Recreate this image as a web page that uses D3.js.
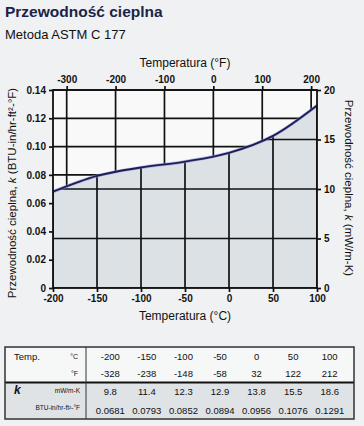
<!DOCTYPE html>
<html>
<head>
<meta charset="utf-8">
<script src="https://cdn.jsdelivr.net/npm/d3@7"></script>
<style>
  body { margin: 0; background: #eff1f2; }
  svg { display: block; font-family: "Liberation Sans", Arial, sans-serif; }
</style>
</head>
<body>
<div id="chart"></div>
<script>
var tempC = [-200, -150, -100, -50, 0, 50, 100];
var tempF = [-328, -238, -148, -58, 32, 122, 212];
var kMW = [9.8, 11.4, 12.3, 12.9, 13.8, 15.5, 18.6];
var kBTU = [0.0681, 0.0793, 0.0852, 0.0894, 0.0956, 0.1076, 0.1291];
var ticksC = [-200, -150, -100, -50, 0, 50, 100];
var ticksF = [-300, -200, -100, 0, 100, 200];
var ticksBTU = [0, 0.02, 0.04, 0.06, 0.08, 0.1, 0.12, 0.14];
var ticksMW = [0, 5, 10, 15, 20];

var w = 364, h = 426;
// plot box (note: "top" is reserved by window, so use px/py names)
var px0 = 53, px1 = 317, py0 = 90, py1 = 288;
var ink = "#111";

var svg = d3.select("#chart").append("svg").attr("width", w).attr("height", h);

var xC = d3.scaleLinear().domain([-200, 100]).range([px0, px1]);
var xF = d3.scaleLinear().domain([-328, 212]).range([px0, px1]);
var yB = d3.scaleLinear().domain([0, 0.14]).range([py1, py0]);
var yM = d3.scaleLinear().domain([0, 20]).range([py1, py0]);

// titles
svg.append("text").attr("x", 5).attr("y", 17)
  .style("font-size", "15.5px").style("font-weight", "bold").style("fill", "#1b2448")
  .text("Przewodność cieplna");
svg.append("text").attr("x", 5).attr("y", 39)
  .style("font-size", "13px").style("fill", ink)
  .text("Metoda ASTM C 177");

// plot background
svg.append("rect").attr("x", px0).attr("y", py0)
  .attr("width", px1 - px0).attr("height", py1 - py0)
  .style("fill", "#f9f9f9");

var pts = tempC.map(function (c, i) { return [c, kBTU[i]]; });

// upper grid (F / BTU)
var g1 = svg.append("g").style("stroke", ink).style("stroke-width", 1.7);
g1.selectAll("line.v").data(ticksF).enter().append("line")
  .attr("x1", function (d) { return xF(d); }).attr("x2", function (d) { return xF(d); })
  .attr("y1", py0).attr("y2", py1);
g1.selectAll("line.h").data(ticksBTU.slice(1)).enter().append("line")
  .attr("x1", px0).attr("x2", px1)
  .attr("y1", function (d) { return yB(d); }).attr("y2", function (d) { return yB(d); });

// area under curve
var area = d3.area()
  .x(function (d) { return xC(d[0]); })
  .y0(py1)
  .y1(function (d) { return yB(d[1]); })
  .curve(d3.curveMonotoneX);
svg.append("clipPath").attr("id", "under").append("path").attr("d", area(pts));
svg.append("path").attr("d", area(pts)).style("fill", "#dce1e5");

// lower grid (C / mW), clipped to the area
var g2 = svg.append("g").attr("clip-path", "url(#under)")
  .style("stroke", ink).style("stroke-width", 1.7);
g2.selectAll("line.v").data(ticksC).enter().append("line")
  .attr("x1", function (d) { return xC(d); }).attr("x2", function (d) { return xC(d); })
  .attr("y1", py0).attr("y2", py1);
g2.selectAll("line.h").data(ticksMW).enter().append("line")
  .attr("x1", px0).attr("x2", px1)
  .attr("y1", function (d) { return yM(d); }).attr("y2", function (d) { return yM(d); });

// curve
var line = d3.line()
  .x(function (d) { return xC(d[0]); })
  .y(function (d) { return yB(d[1]); })
  .curve(d3.curveMonotoneX);
svg.append("path").attr("d", line(pts))
  .style("fill", "none").style("stroke", "#8d92c8").style("stroke-width", 3.2).style("opacity", 0.6);
svg.append("path").attr("d", line(pts))
  .style("fill", "none").style("stroke", "#1d1d5a").style("stroke-width", 1.9);

// axes
var hyphen = function (d) { return String(d); };
function styleAxis(g) {
  g.select(".domain").remove();
  g.selectAll(".tick line").style("stroke", ink).style("stroke-width", 1.7);
  g.selectAll(".tick text").style("font-size", "10px").style("font-weight", "bold")
    .style("fill", ink).style("font-family", "'Liberation Sans', Arial, sans-serif");
}
svg.append("g").attr("transform", "translate(" + px0 + ",0)")
  .call(d3.axisLeft(yB).tickValues(ticksBTU).tickSize(4).tickPadding(3)
    .tickFormat(function (d) { return d === 0 ? "0" : d3.format(".2f")(d); }))
  .call(styleAxis);
svg.append("g").attr("transform", "translate(" + px1 + ",0)")
  .call(d3.axisRight(yM).tickValues(ticksMW).tickSize(4).tickPadding(3).tickFormat(hyphen))
  .call(styleAxis);
svg.append("g").attr("transform", "translate(0," + py1 + ")")
  .call(d3.axisBottom(xC).tickValues(ticksC).tickSize(4).tickPadding(3).tickFormat(hyphen))
  .call(styleAxis);
svg.append("g").attr("transform", "translate(0," + py0 + ")")
  .call(d3.axisTop(xF).tickValues(ticksF).tickSize(4).tickPadding(3).tickFormat(hyphen))
  .call(styleAxis);

// frame
svg.append("rect").attr("x", px0).attr("y", py0)
  .attr("width", px1 - px0).attr("height", py1 - py0)
  .style("fill", "none").style("stroke", ink).style("stroke-width", 1.8);

// axis titles
svg.append("text").attr("x", (px0 + px1) / 2).attr("y", 320)
  .attr("text-anchor", "middle").style("font-size", "12px").style("fill", ink)
  .text("Temperatura (°C)");
svg.append("text").attr("x", (px0 + px1) / 2).attr("y", 67)
  .attr("text-anchor", "middle").style("font-size", "12px").style("fill", ink)
  .text("Temperatura (°F)");
var lt = svg.append("text").attr("transform", "translate(16,193) rotate(-90)")
  .attr("text-anchor", "middle").style("font-size", "11.5px").style("fill", ink);
lt.append("tspan").text("Przewodność cieplna, ");
lt.append("tspan").style("font-style", "italic").text("k");
lt.append("tspan").text(" (BTU-in/hr-ft²-°F)");
var rt = svg.append("text").attr("transform", "translate(345,188) rotate(90)")
  .attr("text-anchor", "middle").style("font-size", "11.5px").style("fill", ink);
rt.append("tspan").text("Przewodność cieplna, ");
rt.append("tspan").style("font-style", "italic").text("k");
rt.append("tspan").text(" (mW/m-K)");

// table
var tx0 = 5, tx1 = 354, rows = [347, 365, 382.5, 401, 419];
var col = d3.scaleBand().domain(tempC).range([92, 348]);
var t = svg.append("g");
t.append("rect").attr("x", tx0).attr("y", rows[0]).attr("width", tx1 - tx0).attr("height", rows[2] - rows[0])
  .style("fill", "#f6f7f7");
t.append("rect").attr("x", tx0).attr("y", rows[2]).attr("width", tx1 - tx0).attr("height", rows[4] - rows[2])
  .style("fill", "#dfe3e6");
t.append("line").attr("x1", tx0).attr("x2", tx1).attr("y1", rows[2]).attr("y2", rows[2])
  .style("stroke", ink).style("stroke-width", 1.8);
t.append("line").attr("x1", 86).attr("x2", 86).attr("y1", rows[0]).attr("y2", rows[4])
  .style("stroke", "#333").style("stroke-width", 1);
t.append("rect").attr("x", tx0).attr("y", rows[0]).attr("width", tx1 - tx0).attr("height", rows[4] - rows[0])
  .style("fill", "none").style("stroke", "#333").style("stroke-width", 1.5);

var rowVals = [tempC, tempF, kMW, kBTU];
var rowFmt = [String, String, d3.format(".1f"), d3.format(".4f")];
rowVals.forEach(function (vals, r) {
  t.selectAll("text.r" + r).data(vals).enter().append("text")
    .attr("x", function (d, i) { return col(tempC[i]) + col.bandwidth() / 2; })
    .attr("y", (rows[r] + rows[r + 1]) / 2 + 3.5)
    .attr("text-anchor", "middle").style("font-size", "9.5px").style("fill", ink)
    .text(function (d) { return rowFmt[r](d); });
});
t.append("text").attr("x", 14).attr("y", 359.5).style("font-size", "9.5px").style("fill", ink).text("Temp.");
t.append("text").attr("x", 78).attr("y", 359).attr("text-anchor", "end").style("font-size", "7px").style("fill", ink).text("°C");
t.append("text").attr("x", 78).attr("y", 376).attr("text-anchor", "end").style("font-size", "7px").style("fill", ink).text("°F");
t.append("text").attr("x", 14).attr("y", 393.5).style("font-size", "12px").style("font-weight", "bold")
  .style("font-style", "italic").style("fill", ink).text("k");
t.append("text").attr("x", 80).attr("y", 392.5).attr("text-anchor", "end").style("font-size", "6.5px").style("fill", ink).text("mW/m-K");
t.append("text").attr("x", 80).attr("y", 410).attr("text-anchor", "end").style("font-size", "6.5px").style("fill", ink).text("BTU-in/hr-ft²-°F");
</script>
</body>
</html>
